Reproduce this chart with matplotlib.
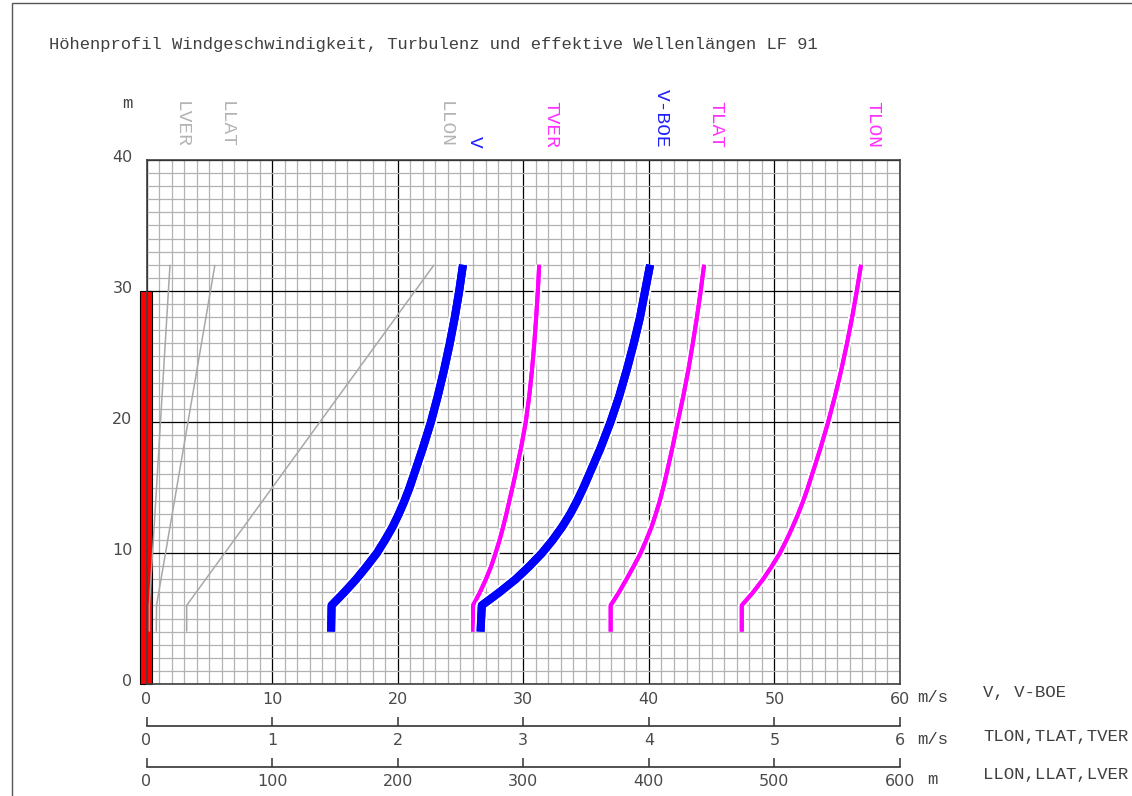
import matplotlib
matplotlib.use("Agg")
import matplotlib.pyplot as plt
import matplotlib.patheffects as pe
from matplotlib.patches import Rectangle
from matplotlib.transforms import ScaledTranslation

# ---------------- data ----------------
TITLE = "Höhenprofil Windgeschwindigkeit, Turbulenz und effektive Wellenlängen LF 91"
Z_CURVE = [4, 6, 7, 8, 9, 10, 11, 12, 13, 14, 15, 16, 18, 20, 22, 24, 26, 28, 30, 32]   # height m
V     = [14.7, 14.74, 15.75, 16.7, 17.55, 18.35, 19.0, 19.6, 20.1, 20.55, 20.95, 21.3,
         22.0, 22.65, 23.2, 23.7, 24.15, 24.55, 24.9, 25.2]                               # m/s
V_BOE = [26.6, 26.7, 28.1, 29.4, 30.5, 31.5, 32.35, 33.1, 33.75, 34.3, 34.8, 35.25,
         36.15, 36.95, 37.65, 38.25, 38.8, 39.3, 39.7, 40.1]                              # m/s
TVER  = [2.60, 2.60, 2.655, 2.703, 2.745, 2.78, 2.812, 2.84, 2.866, 2.89, 2.914, 2.937,
         2.982, 3.02, 3.048, 3.07, 3.088, 3.103, 3.116, 3.127]                            # m/s
TLAT  = [3.696, 3.696, 3.762, 3.822, 3.88, 3.935, 3.98, 4.022, 4.056, 4.088, 4.115, 4.14,
         4.187, 4.23, 4.275, 4.315, 4.35, 4.383, 4.413, 4.44]                             # m/s
TLON  = [4.74, 4.74, 4.83, 4.91, 4.98, 5.044, 5.097, 5.145, 5.19, 5.23, 5.267, 5.30,
         5.367, 5.428, 5.483, 5.533, 5.578, 5.619, 5.656, 5.69]                           # m/s
Z_L   = [4, 6, 32]
LVER  = [2.3, 2.3, 18.7]    # m
LLAT  = [7.8, 8.0, 54.5]    # m
LLON  = [32, 32, 229]       # m
MAST_HEIGHT = 30

V_TICKS = [0, 10, 20, 30, 40, 50, 60]
T_TICKS = [0, 1, 2, 3, 4, 5, 6]
L_TICKS = [0, 100, 200, 300, 400, 500, 600]
Y_TICKS = [0, 10, 20, 30, 40]

# ---------------- figure ----------------
W, H = 1132, 796
fig = plt.figure(figsize=(W / 100, H / 100), dpi=100)
MONO = "Liberation Mono"
TXT = "#404040"
TICKC = "#4a4a4a"
TICKFS = 11.5

def fx(px):
    return px / W

def fy(py):
    return 1 - py / H

# figure border
fig.add_artist(Rectangle((fx(12), -0.01), 1.05, fy(3) + 0.01, transform=fig.transFigure,
                         fill=False, edgecolor="#555555", lw=1.0))

AX_L, AX_R, AX_T, AX_B = 146.5, 900, 160, 684
ax = fig.add_axes([fx(AX_L), fy(AX_B), fx(AX_R - AX_L), (AX_B - AX_T) / H])
ax.set_xlim(0, 60)
ax.set_ylim(0, 40)

# grid
ax.set_xticks(range(0, 61, 1), minor=True)
ax.set_yticks(range(0, 41, 1), minor=True)
ax.set_xticks(V_TICKS)
ax.set_yticks(Y_TICKS)
ax.grid(which="minor", color="#b2b2b2", lw=0.9, zorder=0)
ax.grid(which="major", color="#000000", lw=0.9, zorder=0.5)
ax.set_axisbelow(True)
ax.tick_params(which="both", length=0)
ax.tick_params(axis="x", pad=5.5, labelsize=TICKFS, labelcolor=TICKC)
ax.tick_params(axis="y", pad=10, labelsize=TICKFS, labelcolor=TICKC)
for lab in ax.get_yticklabels():
    lab.set_transform(lab.get_transform() + ScaledTranslation(0, 0.04, fig.dpi_scale_trans))
for s in ax.spines.values():
    s.set_color("#404040")
    s.set_linewidth(1.2)
    s.set_zorder(6)

# mast
ax.add_patch(Rectangle((-0.55, 0), 1.0, MAST_HEIGHT, facecolor="#ff0000", edgecolor="#000000",
                       lw=0.8, clip_on=False, zorder=2))

# curves
def halo(w):
    return [pe.withStroke(linewidth=w, foreground="white"), pe.Normal()]

GRAY = "#a8a8a8"
for vals in (LVER, LLAT, LLON):
    ax.plot([v / 10 for v in vals], Z_L, color=GRAY, lw=1.1, zorder=3, solid_capstyle="butt")
for vals in (TVER, TLAT, TLON):
    ax.plot([v * 10 for v in vals], Z_CURVE, color="#ff00ff", lw=2.9, zorder=4,
            solid_capstyle="butt", solid_joinstyle="round", path_effects=halo(5.8))
for vals in (V, V_BOE):
    ax.plot(vals, Z_CURVE, color="#0000ff", lw=5.8, zorder=5,
            solid_capstyle="butt", solid_joinstyle="round", path_effects=halo(8.8))

# curve labels (rotated, above the plot)
labels = [
    ("LVER", LVER[-1] / 10, "#b4b4b4"),
    ("LLAT", LLAT[-1] / 10, "#b4b4b4"),
    ("LLON", LLON[-1] / 10, "#b4b4b4"),
    ("V", V[-1], "#2020ff"),
    ("TVER", TVER[-1] * 10, "#ff30ff"),
    ("V-BOE", V_BOE[-1], "#2020ff"),
    ("TLAT", TLAT[-1] * 10, "#ff30ff"),
    ("TLON", TLON[-1] * 10, "#ff30ff"),
]
for txt, xtop, col in labels:
    ax.annotate(txt, xy=(xtop + 0.9, 1.0), xycoords=("data", "axes fraction"),
                xytext=(0, 8.6), textcoords="offset points", rotation=-90,
                ha="center", va="bottom", fontsize=14, family=MONO, color=col,
                annotation_clip=False)

# secondary scales
def scale_axis(py, ticks):
    a = fig.add_axes([fx(AX_L), fy(py), fx(AX_R - AX_L), 0.0001])
    a.set_xlim(ticks[0], ticks[-1])
    a.set_ylim(0, 1)
    a.set_xticks(ticks)
    a.set_yticks([])
    for k in ("top", "left", "right"):
        a.spines[k].set_visible(False)
    a.spines["bottom"].set_color("#333333")
    a.spines["bottom"].set_linewidth(1.2)
    a.patch.set_visible(False)
    a.tick_params(axis="x", direction="in", length=6.5, width=1.1, color="#333333",
                  pad=5.5, labelsize=TICKFS, labelcolor=TICKC)
    return a

scale_axis(725.7, T_TICKS)
scale_axis(766.7, L_TICKS)

# texts
fig.text(fx(49), fy(45), TITLE, family=MONO, fontsize=12.3, color=TXT, ha="left", va="center")
fig.text(fx(127), fy(103), "m", family=MONO, fontsize=12.5, color=TXT, ha="center", va="center")
fig.text(fx(917), fy(698), "m/s", family=MONO, fontsize=12.5, color=TXT, ha="left", va="center")
fig.text(fx(917), fy(740), "m/s", family=MONO, fontsize=12.5, color=TXT, ha="left", va="center")
fig.text(fx(927), fy(780), "m", family=MONO, fontsize=12.5, color=TXT, ha="left", va="center")
fig.text(fx(983), fy(693), "V, V-BOE", family=MONO, fontsize=12.5, color=TXT, ha="left", va="center")
fig.text(fx(983), fy(736), "TLON,TLAT,TVER", family=MONO, fontsize=12.5, color=TXT, ha="left", va="center")
fig.text(fx(983), fy(775), "LLON,LLAT,LVER", family=MONO, fontsize=12.5, color=TXT, ha="left", va="center")

fig.savefig("out.png", dpi=100, facecolor="white")
